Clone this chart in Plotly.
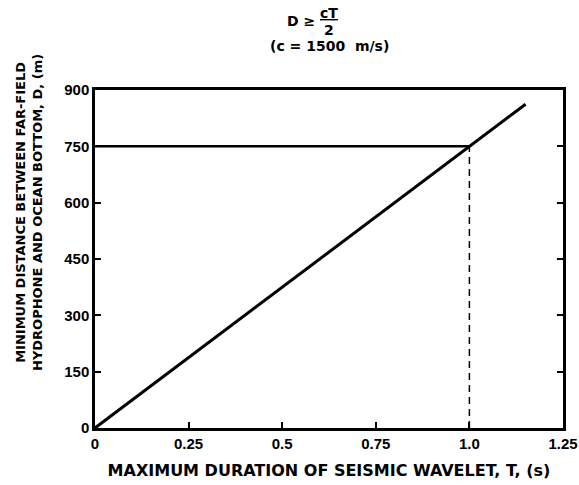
"""
Far-field hydrophone distance vs wavelet duration
"""

import plotly.graph_objects as go

# data
duration_t = [0, 1.15]
distance_d = [0, 862]

guide_h_t = [0, 1.0]
guide_h_d = [750, 750]

guide_v_t = [1.0, 1.0]
guide_v_d = [0, 750]

x_ticks = [0, 0.25, 0.5, 0.75, 1.0, 1.25]
x_tick_labels = ["0", "0.25", "0.5", "0.75", "1.0", "1.25"]
y_ticks = [0, 150, 300, 450, 600, 750, 900]

FONT = "DejaVu Sans, Liberation Sans, Arial, sans-serif"
TICK_FONT = "Liberation Sans, Arial, sans-serif"


def px_x(p):
    # page pixel column -> paper x
    return (p - 95) / 468


def px_y(p):
    # page pixel row -> paper y
    return (428 - p) / 338


fig = go.Figure()

fig.add_trace(
    go.Scatter(
        x=duration_t,
        y=distance_d,
        mode="lines",
        line=dict(color="black", width=3),
        showlegend=False,
    )
)
fig.add_trace(
    go.Scatter(
        x=guide_h_t,
        y=guide_h_d,
        mode="lines",
        line=dict(color="black", width=2.5),
        showlegend=False,
    )
)
fig.add_trace(
    go.Scatter(
        x=guide_v_t,
        y=guide_v_d,
        mode="lines",
        line=dict(color="black", width=1.5, dash="7px,5px"),
        showlegend=False,
    )
)

axis_common = dict(
    showgrid=False,
    zeroline=False,
    showline=True,
    linecolor="black",
    linewidth=2.5,
    ticks="inside",
    ticklen=6,
    tickwidth=1.5,
    tickcolor="black",
    ticklabeloverflow="allow",
    automargin=False,
    tickfont=dict(family=TICK_FONT, size=15, color="black", weight="bold"),
)

fig.update_xaxes(
    range=[0, 1.25],
    tickvals=x_ticks,
    ticktext=x_tick_labels,
    mirror=True,
    title=dict(
        text="MAXIMUM DURATION OF SEISMIC WAVELET, T, (s)",
        font=dict(family=FONT, size=16, color="black", weight="bold"),
        standoff=15,
    ),
    **axis_common,
)
fig.update_yaxes(
    range=[0, 900],
    tickvals=y_ticks,
    mirror="ticks",
    **axis_common,
)

# formula in the heading
heading_font = dict(family=FONT, size=14, color="black", weight="bold")
fig.add_annotation(
    text="D ≥",
    xref="paper", yref="paper",
    x=px_x(301), y=px_y(21),
    xanchor="center", yanchor="middle",
    showarrow=False,
    font=heading_font,
)
fig.add_annotation(
    text="<u>cT</u>",
    xref="paper", yref="paper",
    x=px_x(329), y=px_y(13),
    xanchor="center", yanchor="middle",
    showarrow=False,
    font=heading_font,
)
fig.add_annotation(
    text="2",
    xref="paper", yref="paper",
    x=px_x(329), y=px_y(30),
    xanchor="center", yanchor="middle",
    showarrow=False,
    font=heading_font,
)
fig.add_annotation(
    text="(c = 1500  m/s)",
    xref="paper", yref="paper",
    x=px_x(329), y=px_y(46),
    xanchor="center", yanchor="middle",
    showarrow=False,
    font=heading_font,
)

# y axis title, set higher than the plot middle as in the original
fig.add_annotation(
    text="MINIMUM DISTANCE BETWEEN FAR-FIELD<br>HYDROPHONE AND OCEAN BOTTOM, D, (m)",
    xref="paper", yref="paper",
    x=px_x(29), y=px_y(213),
    xanchor="center", yanchor="middle",
    textangle=-90,
    showarrow=False,
    font=dict(family=FONT, size=13, color="black", weight="bold"),
)

fig.update_layout(
    width=579,
    height=485,
    margin=dict(l=95, r=16, t=90, b=57),
    plot_bgcolor="white",
    paper_bgcolor="white",
)

# drop the default page margin so the figure fills the window exactly
fig.write_html(
    "out.html",
    config={"displayModeBar": False},
    post_script="document.body.style.margin = '0';",
)
